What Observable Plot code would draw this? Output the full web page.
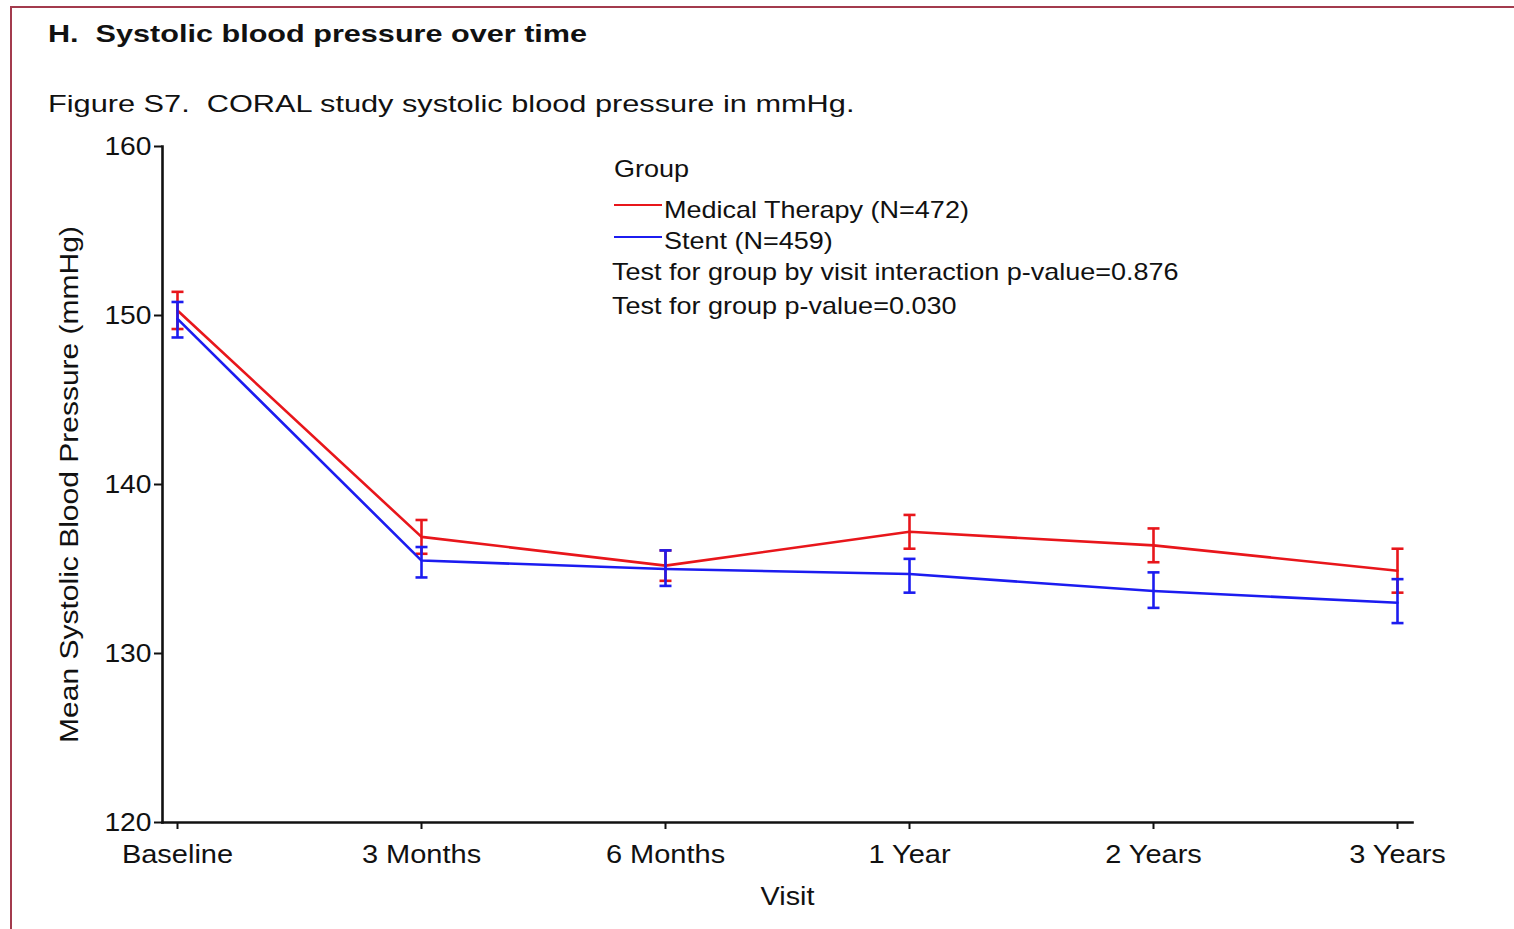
<!DOCTYPE html>
<html><head><meta charset="utf-8">
<script src="https://cdn.jsdelivr.net/npm/d3@7"></script>
<script src="https://cdn.jsdelivr.net/npm/@observablehq/plot@0.6"></script>
<style>
body{margin:0;background:#fff;font-family:"Liberation Sans",Arial,sans-serif;color:#111;}
#page{position:relative;width:1514px;height:929px;overflow:hidden;background:#fff;}
#border{position:absolute;left:10px;top:6px;right:-4px;bottom:-4px;border-left:2px solid #a33b4d;border-top:2px solid #a33b4d;}
#title{position:absolute;left:48px;top:20px;font-weight:bold;font-size:24px;white-space:nowrap;transform:scaleX(1.275);transform-origin:0 50%;}
#subtitle{position:absolute;left:48px;top:90px;font-size:24px;white-space:nowrap;transform:scaleX(1.28);transform-origin:0 50%;}
#chart{position:absolute;left:0;top:130px;}
.leg{position:absolute;font-size:24px;white-space:nowrap;line-height:1;transform:scaleX(1.125);transform-origin:0 50%;}
.sw{position:absolute;height:2px;width:48px;}
</style></head>
<body>
<div id="page">
<div id="border"></div>
<div id="title">H.&nbsp; Systolic blood pressure over time</div>
<div id="subtitle">Figure S7.&nbsp; CORAL study systolic blood pressure in mmHg.</div>
<div id="chart"></div>
<div id="legend"></div>
</div>
<script>
const visits = ["Baseline","3 Months","6 Months","1 Year","2 Years","3 Years"];
const medMean = [150.3,136.9,135.2,137.2,136.4,134.9];
const medLo   = [149.2,135.9,134.3,136.2,135.4,133.6];
const medHi   = [151.4,137.9,136.1,138.2,137.4,136.2];
const stentMean = [149.8,135.5,135.0,134.7,133.7,133.0];
const stentLo   = [148.7,134.5,134.0,133.6,132.7,131.8];
const stentHi   = [150.8,136.3,136.1,135.6,134.8,134.4];
const groups = ["Medical Therapy (N=472)","Stent (N=459)"];
const colors = ["#e8161b","#1c1cf0"];
const yTicks = [120,130,140,150,160];
const notes = ["Test for group by visit interaction p-value=0.876","Test for group p-value=0.030"];

const rows = [];
visits.forEach((v,i)=>{
  rows.push({visit:v, group:groups[0], mean:medMean[i], lo:medLo[i], hi:medHi[i]});
  rows.push({visit:v, group:groups[1], mean:stentMean[i], lo:stentLo[i], hi:stentHi[i]});
});
const capSymbol = {draw(ctx,size){const r=Math.sqrt(size/Math.PI);ctx.moveTo(-r,0);ctx.lineTo(r,0);}};

const marks = [];
groups.forEach((g,k)=>{
  const d = rows.filter(r=>r.group===g);
  marks.push(Plot.line(d,{x:"visit",y:"mean",stroke:colors[k],strokeWidth:2.6}));
  marks.push(Plot.ruleX(d,{x:"visit",y1:"lo",y2:"hi",stroke:colors[k],strokeWidth:2.6}));
  marks.push(Plot.dot(d,{x:"visit",y:"lo",symbol:capSymbol,r:6,stroke:colors[k],strokeWidth:2.6}));
  marks.push(Plot.dot(d,{x:"visit",y:"hi",symbol:capSymbol,r:6,stroke:colors[k],strokeWidth:2.6}));
});

const chart = Plot.plot({
  width:1514, height:799,
  marginLeft:162, marginRight:102, marginTop:16, marginBottom:107,
  style:{fontFamily:'"Liberation Sans",Arial,sans-serif', fontSize:"25px", color:"#111", background:"transparent", overflow:"visible"},
  x:{type:"point", domain:visits, padding:0.058},
  y:{domain:[120,160]},
  marks:[
    Plot.frame({anchor:"left", stroke:"#111", strokeWidth:2.6}),
    Plot.frame({anchor:"bottom", stroke:"#111", strokeWidth:2.6}),
    Plot.axisY({ticks:yTicks, tickSize:8, tickPadding:3, strokeWidth:2, label:"Mean Systolic Blood Pressure (mmHg)", labelAnchor:"center", labelArrow:"none", labelOffset:102, fontSize:25}),
    Plot.axisX({tickSize:7, tickPadding:16, strokeWidth:2, label:"Visit", labelAnchor:"center", labelArrow:"none", labelOffset:82, fontSize:25}),
    ...marks
  ]
});
function stretch(sel,s){
  chart.querySelectorAll(sel+" text").forEach(t=>{
    let tr=t.getAttribute("transform")||"";
    const x=t.getAttribute("x");
    if(x!==null && !isNaN(+x)){ tr += ` translate(${x},0)`; t.removeAttribute("x"); }
    t.setAttribute("transform", tr+` scale(${s},1)`);
  });
}
stretch('g[aria-label="y-axis tick label"]',1.13);
stretch('g[aria-label="x-axis tick label"]',1.16);
stretch('g[aria-label="y-axis label"]',1.2);
stretch('g[aria-label="x-axis label"]',1.15);
document.getElementById("chart").appendChild(chart);

const leg = document.getElementById("legend");
function addText(t,x,y){const e=document.createElement("div");e.className="leg";e.textContent=t;e.style.left=x+"px";e.style.top=y+"px";leg.appendChild(e);}
addText("Group",614,157);
groups.forEach((g,k)=>{
  const s=document.createElement("div");s.className="sw";s.style.background=colors[k];s.style.left="614px";s.style.top=(204+k*32)+"px";leg.appendChild(s);
  addText(g,664,198+k*31);
});
notes.forEach((n,k)=>addText(n,612,260+k*34));
</script>
</body></html>
